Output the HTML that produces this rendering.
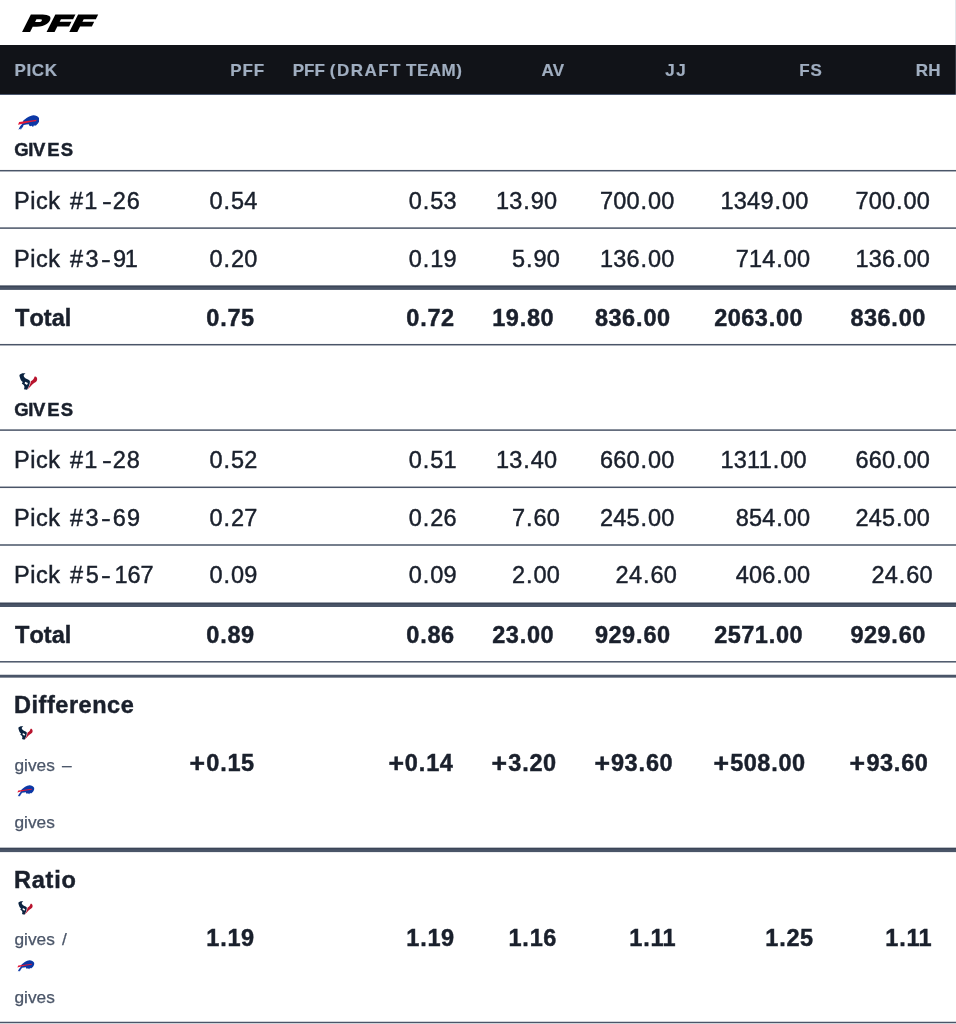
<!DOCTYPE html>
<html lang="en"><head><meta charset="utf-8"><title>PFF Draft Pick Trade Value</title>
<style>
html,body{margin:0;padding:0;background:#fff;}
body{width:956px;height:1024px;position:relative;overflow:hidden;font-family:"Liberation Sans",sans-serif;font-kerning:none;-webkit-font-smoothing:antialiased;}
.t{position:absolute;white-space:pre;margin:0;color:#1a202c;-webkit-text-stroke:0.45px currentColor;}
.t span{display:inline-block;white-space:pre;}
.c{text-align:center;}
.g{-webkit-text-stroke-width:0.25px;}
.h{-webkit-text-stroke-width:0.2px;}
.lg{position:absolute;display:block;}
#hdr{position:absolute;left:0;top:45px;width:956px;height:50px;background:#111318;border-bottom:1px solid #4a566c;box-sizing:border-box;}
#edge{position:absolute;left:955px;top:0;width:1px;height:95px;background:rgba(150,160,178,0.28);}
#rules{position:absolute;left:0;top:0;}
#logo{position:absolute;left:0;top:0;}
</style></head><body>
<svg id="logo" width="130" height="44" viewBox="0 0 130 44"><text x="0" y="0" transform="translate(21.9 30.8) skewX(-26.5) scale(1.485 1)" font-family="Liberation Sans, sans-serif" font-weight="bold" font-size="22.4" letter-spacing="1.6" fill="#000" stroke="#000" stroke-width="2.2" stroke-linejoin="miter" stroke-miterlimit="8">PFF</text></svg>
<div id="hdr"></div><div id="edge"></div>
<svg id="rules" width="956" height="1024" viewBox="0 0 956 1024"><rect x="0" y="169.95" width="956" height="1.50" fill="#4a5568"/><rect x="0" y="227.35" width="956" height="1.50" fill="#4a5568"/><rect x="0" y="343.95" width="956" height="1.50" fill="#4a5568"/><rect x="0" y="429.35" width="956" height="1.50" fill="#4a5568"/><rect x="0" y="486.55" width="956" height="1.50" fill="#4a5568"/><rect x="0" y="544.25" width="956" height="1.50" fill="#4a5568"/><rect x="0" y="661.05" width="956" height="1.50" fill="#4a5568"/><rect x="0" y="1021.75" width="956" height="1.50" fill="#4a5568"/><rect x="0" y="285.60" width="956" height="4.30" fill="#4a5568"/><rect x="0" y="285.60" width="956" height="1.44" fill="#3b4557"/><rect x="0" y="602.70" width="956" height="4.30" fill="#4a5568"/><rect x="0" y="602.70" width="956" height="1.44" fill="#3b4557"/><rect x="0" y="847.80" width="956" height="4.30" fill="#4a5568"/><rect x="0" y="847.80" width="956" height="1.44" fill="#3b4557"/><rect x="0" y="674.75" width="956" height="2.90" fill="#4a5568"/></svg>
<svg class="lg" style="left:18.0px;top:114.9px" width="21.3" height="15.1" viewBox="0 0 44 31">
<path fill="#0c38a6" d="M11 11.5 C16 7 24 1 32 0.4 C37 0.3 42 3 44 7 C44.6 10 44 13 43 14.5 C42 17 40.5 18.5 39 19.5 C38 21 36.5 22 35 22 L33 21 L31 24.5 L28 22 L25 23 C23 22 22.5 20.5 22.5 19 C19 19 15 19.5 12 20.5 C9.5 23 7 27 6 31 L5 28 L1 30.5 C2.5 26 5 22 8 19 Z"/>
<path fill="#0c38a6" d="M9 22 L6.5 29.5 L11.5 22Z"/>
<path fill="#e31837" d="M2.4 14.2 L38.8 9.6 L37 12.8 C27 14.2 12 16.8 0 20 Z"/>
</svg>
<svg class="lg" style="left:19.0px;top:372.7px" width="18.8" height="17.3" viewBox="0 0 40 36">
<path fill="#0b2340" d="M1 4 C4 0 10 -1 14 1 C10 2 9 5 11 8 C14 12 20 13 23 16 C24 20 22 28 17 35.5 L10.5 34 C12 31 12 27 10 25 L6 22 L8 19 C5 17 3 13 2 9 C1 7 1 5 1 4Z"/>
<path fill="#ffffff" d="M13 18 L19 21 L17 25 L12 22Z"/>
<path fill="#b8142e" d="M25 17 C29 15.5 32 12 33 7.5 C34 6.5 36 6.5 37 8 C40 11.5 39 16.5 35 19.5 C31 22 28 24 25 28 L17.5 35.5 C22 28 25 22 25 17Z"/>
</svg>
<svg class="lg" style="left:17.6px;top:725.8px" width="15.1" height="14.1" viewBox="0 0 40 36">
<path fill="#0b2340" d="M1 4 C4 0 10 -1 14 1 C10 2 9 5 11 8 C14 12 20 13 23 16 C24 20 22 28 17 35.5 L10.5 34 C12 31 12 27 10 25 L6 22 L8 19 C5 17 3 13 2 9 C1 7 1 5 1 4Z"/>
<path fill="#ffffff" d="M13 18 L19 21 L17 25 L12 22Z"/>
<path fill="#b8142e" d="M25 17 C29 15.5 32 12 33 7.5 C34 6.5 36 6.5 37 8 C40 11.5 39 16.5 35 19.5 C31 22 28 24 25 28 L17.5 35.5 C22 28 25 22 25 17Z"/>
</svg>
<svg class="lg" style="left:17.1px;top:785.0px" width="17.5" height="11.8" viewBox="0 0 44 31">
<path fill="#0c38a6" d="M11 11.5 C16 7 24 1 32 0.4 C37 0.3 42 3 44 7 C44.6 10 44 13 43 14.5 C42 17 40.5 18.5 39 19.5 C38 21 36.5 22 35 22 L33 21 L31 24.5 L28 22 L25 23 C23 22 22.5 20.5 22.5 19 C19 19 15 19.5 12 20.5 C9.5 23 7 27 6 31 L5 28 L1 30.5 C2.5 26 5 22 8 19 Z"/>
<path fill="#0c38a6" d="M9 22 L6.5 29.5 L11.5 22Z"/>
<path fill="#e31837" d="M2.4 14.2 L38.8 9.6 L37 12.8 C27 14.2 12 16.8 0 20 Z"/>
</svg>
<svg class="lg" style="left:17.6px;top:901.0px" width="15.1" height="14.1" viewBox="0 0 40 36">
<path fill="#0b2340" d="M1 4 C4 0 10 -1 14 1 C10 2 9 5 11 8 C14 12 20 13 23 16 C24 20 22 28 17 35.5 L10.5 34 C12 31 12 27 10 25 L6 22 L8 19 C5 17 3 13 2 9 C1 7 1 5 1 4Z"/>
<path fill="#ffffff" d="M13 18 L19 21 L17 25 L12 22Z"/>
<path fill="#b8142e" d="M25 17 C29 15.5 32 12 33 7.5 C34 6.5 36 6.5 37 8 C40 11.5 39 16.5 35 19.5 C31 22 28 24 25 28 L17.5 35.5 C22 28 25 22 25 17Z"/>
</svg>
<svg class="lg" style="left:17.1px;top:959.9px" width="17.5" height="11.8" viewBox="0 0 44 31">
<path fill="#0c38a6" d="M11 11.5 C16 7 24 1 32 0.4 C37 0.3 42 3 44 7 C44.6 10 44 13 43 14.5 C42 17 40.5 18.5 39 19.5 C38 21 36.5 22 35 22 L33 21 L31 24.5 L28 22 L25 23 C23 22 22.5 20.5 22.5 19 C19 19 15 19.5 12 20.5 C9.5 23 7 27 6 31 L5 28 L1 30.5 C2.5 26 5 22 8 19 Z"/>
<path fill="#0c38a6" d="M9 22 L6.5 29.5 L11.5 22Z"/>
<path fill="#e31837" d="M2.4 14.2 L38.8 9.6 L37 12.8 C27 14.2 12 16.8 0 20 Z"/>
</svg>
<div class="thead" role="row">
<div class="t h" style="left:14.463px;top:62.200px;font-size:17px;line-height:17px;font-weight:bold;color:#a0aec0"><span style="letter-spacing:0.626px;">PICK</span></div>
<div class="t h" style="left:230.163px;top:62.200px;font-size:17px;line-height:17px;font-weight:bold;color:#a0aec0"><span style="letter-spacing:0.976px;">PFF</span></div>
<div class="t h" style="left:292.763px;top:62.200px;font-size:17px;line-height:17px;font-weight:bold;color:#a0aec0"><span style="letter-spacing:0.026px;">PFF </span><span style="letter-spacing:1.474px;margin-left:0.155px;">(DRAFT </span><span style="letter-spacing:0.479px;margin-left:-2.044px;">TEAM)</span></div>
<div class="t h" style="left:541.477px;top:62.200px;font-size:17px;line-height:17px;font-weight:bold;color:#a0aec0"><span style="letter-spacing:-0.976px;">AV</span></div>
<div class="t h" style="left:665.243px;top:62.200px;font-size:17px;line-height:17px;font-weight:bold;color:#a0aec0"><span style="letter-spacing:1.610px;">JJ</span></div>
<div class="t h" style="left:799.163px;top:62.200px;font-size:17px;line-height:17px;font-weight:bold;color:#a0aec0"><span style="letter-spacing:0.978px;">FS</span></div>
<div class="t h" style="left:915.863px;top:62.200px;font-size:17px;line-height:17px;font-weight:bold;color:#a0aec0"><span style="letter-spacing:0.229px;">RH</span></div>
</div>
<div class="t " style="left:14.341px;top:141.450px;font-size:18.5px;line-height:18.5px;font-weight:bold;color:#1a202c"><span style="letter-spacing:-0.442px;">GIV</span><span style="letter-spacing:1.081px;margin-left:2.378px;">ES</span></div>
<div class="t " style="left:14.341px;top:401.250px;font-size:18.5px;line-height:18.5px;font-weight:bold;color:#1a202c"><span style="letter-spacing:-0.442px;">GIV</span><span style="letter-spacing:1.081px;margin-left:2.378px;">ES</span></div>
<div class="tr" role="row">
<div class="t " style="left:13.972px;top:190.250px;font-size:23.5px;line-height:23.5px;font-weight:normal;color:#1a202c"><span style="letter-spacing:0.533px;">Pick </span><span style="letter-spacing:0.000px;margin-left:2.561px;">#</span><span style="letter-spacing:0.000px;margin-left:1.153px;">1</span><span style="letter-spacing:0.000px;transform:scaleX(1.25);margin-left:5.174px;">-</span><span style="letter-spacing:0.975px;margin-left:2.405px;">26</span></div>
<div class="t" style="left:209.400px;top:190.250px;font-size:23.5px;line-height:23.5px;font-weight:normal"><span class="c" style="width:13.30px">0</span><span class="c" style="width:8.20px">.</span><span class="c" style="width:13.30px">5</span><span class="c" style="width:13.30px">4</span></div>
<div class="t" style="left:408.700px;top:190.250px;font-size:23.5px;line-height:23.5px;font-weight:normal"><span class="c" style="width:13.30px">0</span><span class="c" style="width:8.20px">.</span><span class="c" style="width:13.30px">5</span><span class="c" style="width:13.30px">3</span></div>
<div class="t" style="left:495.900px;top:190.250px;font-size:23.5px;line-height:23.5px;font-weight:normal"><span class="c" style="width:13.30px">1</span><span class="c" style="width:13.30px">3</span><span class="c" style="width:8.20px">.</span><span class="c" style="width:13.30px">9</span><span class="c" style="width:13.30px">0</span></div>
<div class="t" style="left:599.800px;top:190.250px;font-size:23.5px;line-height:23.5px;font-weight:normal"><span class="c" style="width:13.30px">7</span><span class="c" style="width:13.30px">0</span><span class="c" style="width:13.30px">0</span><span class="c" style="width:8.20px">.</span><span class="c" style="width:13.30px">0</span><span class="c" style="width:13.30px">0</span></div>
<div class="t" style="left:720.400px;top:190.250px;font-size:23.5px;line-height:23.5px;font-weight:normal"><span class="c" style="width:13.30px">1</span><span class="c" style="width:13.30px">3</span><span class="c" style="width:13.30px">4</span><span class="c" style="width:13.30px">9</span><span class="c" style="width:8.20px">.</span><span class="c" style="width:13.30px">0</span><span class="c" style="width:13.30px">0</span></div>
<div class="t" style="left:855.300px;top:190.250px;font-size:23.5px;line-height:23.5px;font-weight:normal"><span class="c" style="width:13.30px">7</span><span class="c" style="width:13.30px">0</span><span class="c" style="width:13.30px">0</span><span class="c" style="width:8.20px">.</span><span class="c" style="width:13.30px">0</span><span class="c" style="width:13.30px">0</span></div>
</div>
<div class="tr" role="row">
<div class="t " style="left:13.972px;top:248.250px;font-size:23.5px;line-height:23.5px;font-weight:normal;color:#1a202c"><span style="letter-spacing:0.533px;">Pick </span><span style="letter-spacing:2.497px;margin-left:2.437px;">#3</span><span style="letter-spacing:0.000px;transform:scaleX(1.25);margin-left:1.258px;">-</span><span style="letter-spacing:-1.290px;margin-left:2.686px;">91</span></div>
<div class="t" style="left:209.400px;top:248.250px;font-size:23.5px;line-height:23.5px;font-weight:normal"><span class="c" style="width:13.30px">0</span><span class="c" style="width:8.20px">.</span><span class="c" style="width:13.30px">2</span><span class="c" style="width:13.30px">0</span></div>
<div class="t" style="left:408.700px;top:248.250px;font-size:23.5px;line-height:23.5px;font-weight:normal"><span class="c" style="width:13.30px">0</span><span class="c" style="width:8.20px">.</span><span class="c" style="width:13.30px">1</span><span class="c" style="width:13.30px">9</span></div>
<div class="t" style="left:511.800px;top:248.250px;font-size:23.5px;line-height:23.5px;font-weight:normal"><span class="c" style="width:13.30px">5</span><span class="c" style="width:8.20px">.</span><span class="c" style="width:13.30px">9</span><span class="c" style="width:13.30px">0</span></div>
<div class="t" style="left:599.800px;top:248.250px;font-size:23.5px;line-height:23.5px;font-weight:normal"><span class="c" style="width:13.30px">1</span><span class="c" style="width:13.30px">3</span><span class="c" style="width:13.30px">6</span><span class="c" style="width:8.20px">.</span><span class="c" style="width:13.30px">0</span><span class="c" style="width:13.30px">0</span></div>
<div class="t" style="left:735.600px;top:248.250px;font-size:23.5px;line-height:23.5px;font-weight:normal"><span class="c" style="width:13.30px">7</span><span class="c" style="width:13.30px">1</span><span class="c" style="width:13.30px">4</span><span class="c" style="width:8.20px">.</span><span class="c" style="width:13.30px">0</span><span class="c" style="width:13.30px">0</span></div>
<div class="t" style="left:855.300px;top:248.250px;font-size:23.5px;line-height:23.5px;font-weight:normal"><span class="c" style="width:13.30px">1</span><span class="c" style="width:13.30px">3</span><span class="c" style="width:13.30px">6</span><span class="c" style="width:8.20px">.</span><span class="c" style="width:13.30px">0</span><span class="c" style="width:13.30px">0</span></div>
</div>
<div class="tr" role="row">
<div class="t " style="left:13.972px;top:449.250px;font-size:23.5px;line-height:23.5px;font-weight:normal;color:#1a202c"><span style="letter-spacing:0.533px;">Pick </span><span style="letter-spacing:0.000px;margin-left:2.561px;">#</span><span style="letter-spacing:0.000px;margin-left:1.153px;">1</span><span style="letter-spacing:0.000px;transform:scaleX(1.25);margin-left:5.174px;">-</span><span style="letter-spacing:0.964px;margin-left:2.405px;">28</span></div>
<div class="t" style="left:209.400px;top:449.250px;font-size:23.5px;line-height:23.5px;font-weight:normal"><span class="c" style="width:13.30px">0</span><span class="c" style="width:8.20px">.</span><span class="c" style="width:13.30px">5</span><span class="c" style="width:13.30px">2</span></div>
<div class="t" style="left:408.700px;top:449.250px;font-size:23.5px;line-height:23.5px;font-weight:normal"><span class="c" style="width:13.30px">0</span><span class="c" style="width:8.20px">.</span><span class="c" style="width:13.30px">5</span><span class="c" style="width:13.30px">1</span></div>
<div class="t" style="left:495.900px;top:449.250px;font-size:23.5px;line-height:23.5px;font-weight:normal"><span class="c" style="width:13.30px">1</span><span class="c" style="width:13.30px">3</span><span class="c" style="width:8.20px">.</span><span class="c" style="width:13.30px">4</span><span class="c" style="width:13.30px">0</span></div>
<div class="t" style="left:599.800px;top:449.250px;font-size:23.5px;line-height:23.5px;font-weight:normal"><span class="c" style="width:13.30px">6</span><span class="c" style="width:13.30px">6</span><span class="c" style="width:13.30px">0</span><span class="c" style="width:8.20px">.</span><span class="c" style="width:13.30px">0</span><span class="c" style="width:13.30px">0</span></div>
<div class="t" style="left:720.400px;top:449.250px;font-size:23.5px;line-height:23.5px;font-weight:normal"><span class="c" style="width:13.30px">1</span><span class="c" style="width:13.30px">3</span><span class="c" style="width:13.30px">1</span><span class="c" style="width:13.30px;margin-left:-1.7px">1</span><span class="c" style="width:8.20px">.</span><span class="c" style="width:13.30px">0</span><span class="c" style="width:13.30px">0</span></div>
<div class="t" style="left:855.300px;top:449.250px;font-size:23.5px;line-height:23.5px;font-weight:normal"><span class="c" style="width:13.30px">6</span><span class="c" style="width:13.30px">6</span><span class="c" style="width:13.30px">0</span><span class="c" style="width:8.20px">.</span><span class="c" style="width:13.30px">0</span><span class="c" style="width:13.30px">0</span></div>
</div>
<div class="tr" role="row">
<div class="t " style="left:13.972px;top:507.250px;font-size:23.5px;line-height:23.5px;font-weight:normal;color:#1a202c"><span style="letter-spacing:0.533px;">Pick </span><span style="letter-spacing:2.497px;margin-left:2.437px;">#3</span><span style="letter-spacing:0.000px;transform:scaleX(1.25);margin-left:1.258px;">-</span><span style="letter-spacing:1.067px;margin-left:2.594px;">69</span></div>
<div class="t" style="left:209.400px;top:507.250px;font-size:23.5px;line-height:23.5px;font-weight:normal"><span class="c" style="width:13.30px">0</span><span class="c" style="width:8.20px">.</span><span class="c" style="width:13.30px">2</span><span class="c" style="width:13.30px">7</span></div>
<div class="t" style="left:408.700px;top:507.250px;font-size:23.5px;line-height:23.5px;font-weight:normal"><span class="c" style="width:13.30px">0</span><span class="c" style="width:8.20px">.</span><span class="c" style="width:13.30px">2</span><span class="c" style="width:13.30px">6</span></div>
<div class="t" style="left:511.800px;top:507.250px;font-size:23.5px;line-height:23.5px;font-weight:normal"><span class="c" style="width:13.30px">7</span><span class="c" style="width:8.20px">.</span><span class="c" style="width:13.30px">6</span><span class="c" style="width:13.30px">0</span></div>
<div class="t" style="left:599.800px;top:507.250px;font-size:23.5px;line-height:23.5px;font-weight:normal"><span class="c" style="width:13.30px">2</span><span class="c" style="width:13.30px">4</span><span class="c" style="width:13.30px">5</span><span class="c" style="width:8.20px">.</span><span class="c" style="width:13.30px">0</span><span class="c" style="width:13.30px">0</span></div>
<div class="t" style="left:735.600px;top:507.250px;font-size:23.5px;line-height:23.5px;font-weight:normal"><span class="c" style="width:13.30px">8</span><span class="c" style="width:13.30px">5</span><span class="c" style="width:13.30px">4</span><span class="c" style="width:8.20px">.</span><span class="c" style="width:13.30px">0</span><span class="c" style="width:13.30px">0</span></div>
<div class="t" style="left:855.300px;top:507.250px;font-size:23.5px;line-height:23.5px;font-weight:normal"><span class="c" style="width:13.30px">2</span><span class="c" style="width:13.30px">4</span><span class="c" style="width:13.30px">5</span><span class="c" style="width:8.20px">.</span><span class="c" style="width:13.30px">0</span><span class="c" style="width:13.30px">0</span></div>
</div>
<div class="tr" role="row">
<div class="t " style="left:13.972px;top:564.250px;font-size:23.5px;line-height:23.5px;font-weight:normal;color:#1a202c"><span style="letter-spacing:0.533px;">Pick </span><span style="letter-spacing:2.751px;margin-left:2.437px;">#5</span><span style="letter-spacing:0.000px;transform:scaleX(1.25);margin-left:0.749px;">-</span><span style="letter-spacing:-0.068px;margin-left:4.197px;">167</span></div>
<div class="t" style="left:209.400px;top:564.250px;font-size:23.5px;line-height:23.5px;font-weight:normal"><span class="c" style="width:13.30px">0</span><span class="c" style="width:8.20px">.</span><span class="c" style="width:13.30px">0</span><span class="c" style="width:13.30px">9</span></div>
<div class="t" style="left:408.700px;top:564.250px;font-size:23.5px;line-height:23.5px;font-weight:normal"><span class="c" style="width:13.30px">0</span><span class="c" style="width:8.20px">.</span><span class="c" style="width:13.30px">0</span><span class="c" style="width:13.30px">9</span></div>
<div class="t" style="left:511.800px;top:564.250px;font-size:23.5px;line-height:23.5px;font-weight:normal"><span class="c" style="width:13.30px">2</span><span class="c" style="width:8.20px">.</span><span class="c" style="width:13.30px">0</span><span class="c" style="width:13.30px">0</span></div>
<div class="t" style="left:615.500px;top:564.250px;font-size:23.5px;line-height:23.5px;font-weight:normal"><span class="c" style="width:13.30px">2</span><span class="c" style="width:13.30px">4</span><span class="c" style="width:8.20px">.</span><span class="c" style="width:13.30px">6</span><span class="c" style="width:13.30px">0</span></div>
<div class="t" style="left:735.600px;top:564.250px;font-size:23.5px;line-height:23.5px;font-weight:normal"><span class="c" style="width:13.30px">4</span><span class="c" style="width:13.30px">0</span><span class="c" style="width:13.30px">6</span><span class="c" style="width:8.20px">.</span><span class="c" style="width:13.30px">0</span><span class="c" style="width:13.30px">0</span></div>
<div class="t" style="left:871.300px;top:564.250px;font-size:23.5px;line-height:23.5px;font-weight:normal"><span class="c" style="width:13.30px">2</span><span class="c" style="width:13.30px">4</span><span class="c" style="width:8.20px">.</span><span class="c" style="width:13.30px">6</span><span class="c" style="width:13.30px">0</span></div>
</div>
<div class="tr total" role="row">
<div class="t " style="left:15.036px;top:307.250px;font-size:23.5px;line-height:23.5px;font-weight:bold;color:#1a202c"><span style="letter-spacing:0.048px;">Total</span></div>
<div class="t" style="left:206.000px;top:307.250px;font-size:23.5px;line-height:23.5px;font-weight:bold"><span class="c" style="width:13.50px">0</span><span class="c" style="width:7.90px">.</span><span class="c" style="width:13.50px">7</span><span class="c" style="width:13.50px">5</span></div>
<div class="t" style="left:406.000px;top:307.250px;font-size:23.5px;line-height:23.5px;font-weight:bold"><span class="c" style="width:13.50px">0</span><span class="c" style="width:7.90px">.</span><span class="c" style="width:13.50px">7</span><span class="c" style="width:13.50px">2</span></div>
<div class="t" style="left:492.000px;top:307.250px;font-size:23.5px;line-height:23.5px;font-weight:bold"><span class="c" style="width:13.50px">1</span><span class="c" style="width:13.50px">9</span><span class="c" style="width:7.90px">.</span><span class="c" style="width:13.50px">8</span><span class="c" style="width:13.50px">0</span></div>
<div class="t" style="left:594.800px;top:307.250px;font-size:23.5px;line-height:23.5px;font-weight:bold"><span class="c" style="width:13.50px">8</span><span class="c" style="width:13.50px">3</span><span class="c" style="width:13.50px">6</span><span class="c" style="width:7.90px">.</span><span class="c" style="width:13.50px">0</span><span class="c" style="width:13.50px">0</span></div>
<div class="t" style="left:714.000px;top:307.250px;font-size:23.5px;line-height:23.5px;font-weight:bold"><span class="c" style="width:13.50px">2</span><span class="c" style="width:13.50px">0</span><span class="c" style="width:13.50px">6</span><span class="c" style="width:13.50px">3</span><span class="c" style="width:7.90px">.</span><span class="c" style="width:13.50px">0</span><span class="c" style="width:13.50px">0</span></div>
<div class="t" style="left:850.200px;top:307.250px;font-size:23.5px;line-height:23.5px;font-weight:bold"><span class="c" style="width:13.50px">8</span><span class="c" style="width:13.50px">3</span><span class="c" style="width:13.50px">6</span><span class="c" style="width:7.90px">.</span><span class="c" style="width:13.50px">0</span><span class="c" style="width:13.50px">0</span></div>
</div>
<div class="tr total" role="row">
<div class="t " style="left:15.036px;top:624.250px;font-size:23.5px;line-height:23.5px;font-weight:bold;color:#1a202c"><span style="letter-spacing:0.048px;">Total</span></div>
<div class="t" style="left:206.000px;top:624.250px;font-size:23.5px;line-height:23.5px;font-weight:bold"><span class="c" style="width:13.50px">0</span><span class="c" style="width:7.90px">.</span><span class="c" style="width:13.50px">8</span><span class="c" style="width:13.50px">9</span></div>
<div class="t" style="left:406.000px;top:624.250px;font-size:23.5px;line-height:23.5px;font-weight:bold"><span class="c" style="width:13.50px">0</span><span class="c" style="width:7.90px">.</span><span class="c" style="width:13.50px">8</span><span class="c" style="width:13.50px">6</span></div>
<div class="t" style="left:492.000px;top:624.250px;font-size:23.5px;line-height:23.5px;font-weight:bold"><span class="c" style="width:13.50px">2</span><span class="c" style="width:13.50px">3</span><span class="c" style="width:7.90px">.</span><span class="c" style="width:13.50px">0</span><span class="c" style="width:13.50px">0</span></div>
<div class="t" style="left:594.800px;top:624.250px;font-size:23.5px;line-height:23.5px;font-weight:bold"><span class="c" style="width:13.50px">9</span><span class="c" style="width:13.50px">2</span><span class="c" style="width:13.50px">9</span><span class="c" style="width:7.90px">.</span><span class="c" style="width:13.50px">6</span><span class="c" style="width:13.50px">0</span></div>
<div class="t" style="left:714.000px;top:624.250px;font-size:23.5px;line-height:23.5px;font-weight:bold"><span class="c" style="width:13.50px">2</span><span class="c" style="width:13.50px">5</span><span class="c" style="width:13.50px">7</span><span class="c" style="width:13.50px">1</span><span class="c" style="width:7.90px">.</span><span class="c" style="width:13.50px">0</span><span class="c" style="width:13.50px">0</span></div>
<div class="t" style="left:850.200px;top:624.250px;font-size:23.5px;line-height:23.5px;font-weight:bold"><span class="c" style="width:13.50px">9</span><span class="c" style="width:13.50px">2</span><span class="c" style="width:13.50px">9</span><span class="c" style="width:7.90px">.</span><span class="c" style="width:13.50px">6</span><span class="c" style="width:13.50px">0</span></div>
</div>
<div class="tr summary" role="row">
<div class="t " style="left:14.028px;top:694.050px;font-size:23.5px;line-height:23.5px;font-weight:bold;color:#1a202c"><span style="letter-spacing:0.538px;">Difference</span></div>
<div class="t g" style="left:14.474px;top:756.950px;font-size:17.3px;line-height:17.3px;font-weight:normal;color:#4a5568"><span style="letter-spacing:0.016px;">gives </span><span style="letter-spacing:0.000px;margin-left:2.379px;">–</span></div>
<div class="t g" style="left:14.474px;top:814.150px;font-size:17.3px;line-height:17.3px;font-weight:normal;color:#4a5568"><span style="letter-spacing:0.016px;">gives</span></div>
<div class="t" style="left:190.000px;top:752.250px;font-size:23.5px;line-height:23.5px;font-weight:bold"><span class="c" style="width:16.00px;transform:scale(1.13);transform-origin:85% 58%">+</span><span class="c" style="width:13.50px">0</span><span class="c" style="width:7.90px">.</span><span class="c" style="width:13.50px">1</span><span class="c" style="width:13.50px">5</span></div>
<div class="t" style="left:388.600px;top:752.250px;font-size:23.5px;line-height:23.5px;font-weight:bold"><span class="c" style="width:16.00px;transform:scale(1.13);transform-origin:85% 58%">+</span><span class="c" style="width:13.50px">0</span><span class="c" style="width:7.90px">.</span><span class="c" style="width:13.50px">1</span><span class="c" style="width:13.50px">4</span></div>
<div class="t" style="left:492.000px;top:752.250px;font-size:23.5px;line-height:23.5px;font-weight:bold"><span class="c" style="width:16.00px;transform:scale(1.13);transform-origin:85% 58%">+</span><span class="c" style="width:13.50px">3</span><span class="c" style="width:7.90px">.</span><span class="c" style="width:13.50px">2</span><span class="c" style="width:13.50px">0</span></div>
<div class="t" style="left:594.800px;top:752.250px;font-size:23.5px;line-height:23.5px;font-weight:bold"><span class="c" style="width:16.00px;transform:scale(1.13);transform-origin:85% 58%">+</span><span class="c" style="width:13.50px">9</span><span class="c" style="width:13.50px">3</span><span class="c" style="width:7.90px">.</span><span class="c" style="width:13.50px">6</span><span class="c" style="width:13.50px">0</span></div>
<div class="t" style="left:714.000px;top:752.250px;font-size:23.5px;line-height:23.5px;font-weight:bold"><span class="c" style="width:16.00px;transform:scale(1.13);transform-origin:85% 58%">+</span><span class="c" style="width:13.50px">5</span><span class="c" style="width:13.50px">0</span><span class="c" style="width:13.50px">8</span><span class="c" style="width:7.90px">.</span><span class="c" style="width:13.50px">0</span><span class="c" style="width:13.50px">0</span></div>
<div class="t" style="left:850.200px;top:752.250px;font-size:23.5px;line-height:23.5px;font-weight:bold"><span class="c" style="width:16.00px;transform:scale(1.13);transform-origin:85% 58%">+</span><span class="c" style="width:13.50px">9</span><span class="c" style="width:13.50px">3</span><span class="c" style="width:7.90px">.</span><span class="c" style="width:13.50px">6</span><span class="c" style="width:13.50px">0</span></div>
</div>
<div class="tr summary" role="row">
<div class="t " style="left:14.028px;top:868.550px;font-size:23.5px;line-height:23.5px;font-weight:bold;color:#1a202c"><span style="letter-spacing:0.760px;">Ratio</span></div>
<div class="t g" style="left:14.474px;top:931.450px;font-size:17.3px;line-height:17.3px;font-weight:normal;color:#4a5568"><span style="letter-spacing:0.016px;">gives </span><span style="letter-spacing:0.000px;margin-left:2.333px;">/</span></div>
<div class="t g" style="left:14.474px;top:988.650px;font-size:17.3px;line-height:17.3px;font-weight:normal;color:#4a5568"><span style="letter-spacing:0.016px;">gives</span></div>
<div class="t" style="left:206.000px;top:926.750px;font-size:23.5px;line-height:23.5px;font-weight:bold"><span class="c" style="width:13.50px">1</span><span class="c" style="width:7.90px">.</span><span class="c" style="width:13.50px">1</span><span class="c" style="width:13.50px">9</span></div>
<div class="t" style="left:406.000px;top:926.750px;font-size:23.5px;line-height:23.5px;font-weight:bold"><span class="c" style="width:13.50px">1</span><span class="c" style="width:7.90px">.</span><span class="c" style="width:13.50px">1</span><span class="c" style="width:13.50px">9</span></div>
<div class="t" style="left:508.200px;top:926.750px;font-size:23.5px;line-height:23.5px;font-weight:bold"><span class="c" style="width:13.50px">1</span><span class="c" style="width:7.90px">.</span><span class="c" style="width:13.50px">1</span><span class="c" style="width:13.50px">6</span></div>
<div class="t" style="left:629.000px;top:926.750px;font-size:23.5px;line-height:23.5px;font-weight:bold"><span class="c" style="width:13.50px">1</span><span class="c" style="width:7.90px">.</span><span class="c" style="width:13.50px">1</span><span class="c" style="width:13.50px;margin-left:-1.7px">1</span></div>
<div class="t" style="left:765.000px;top:926.750px;font-size:23.5px;line-height:23.5px;font-weight:bold"><span class="c" style="width:13.50px">1</span><span class="c" style="width:7.90px">.</span><span class="c" style="width:13.50px">2</span><span class="c" style="width:13.50px">5</span></div>
<div class="t" style="left:885.000px;top:926.750px;font-size:23.5px;line-height:23.5px;font-weight:bold"><span class="c" style="width:13.50px">1</span><span class="c" style="width:7.90px">.</span><span class="c" style="width:13.50px">1</span><span class="c" style="width:13.50px;margin-left:-1.7px">1</span></div>
</div>
</body></html>
